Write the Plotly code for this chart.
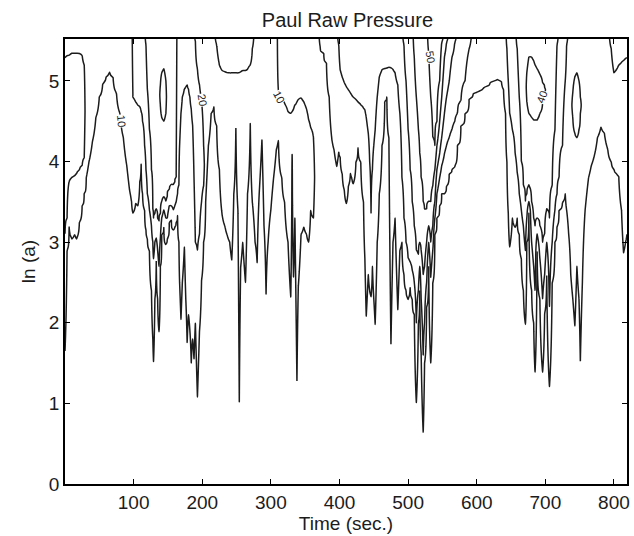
import numpy as np
import plotly.graph_objects as go

# ---- data -----------------------------------------------------------------
# For each time column (sec.), the ln(a) height at which the field first rises
# through each contour level (None = not reached below the top of the plot).
lvl10 = {
    0: 1.65, 3: 2.90, 6: 3.20, 10: 3.05, 14: 3.10, 17: 3.05, 21: 3.25, 25: 3.45, 28: 3.60,
    31: 3.80, 35: 4.00, 40: 4.25, 45: 4.55, 50: 4.80, 55: 4.97, 60: 5.06, 65: 5.12, 70: 5.05,
    75: 4.85, 80: 4.60, 85: 4.30, 90: 3.95, 94: 3.65, 97: 3.50,
    99: 3.36, 103: 3.48, 106: 3.45, 109: 3.75, 111: 3.98, 113: 3.60, 116: 3.40, 118: 3.15,
    120: 3.05, 123: 2.90, 126: 2.40, 128: 1.80, 129: 1.52, 131: 2.30, 133: 2.78, 135: 2.30,
    137: 1.89, 139: 2.70, 141: 3.10, 144: 3.20, 147: 2.97, 149: 3.05, 152: 3.25, 155: 3.28,
    158: 3.15, 160: 3.20, 162: 3.25, 164: 3.34, 166: 3.00, 167: 2.50, 169: 2.04, 171: 2.50,
    174: 2.94, 176: 2.30, 178: 1.75, 180: 2.10, 182: 1.90, 184: 1.50, 186: 1.80, 188: 1.55,
    190: 2.00, 193: 1.08, 196: 1.90, 199: 2.53, 202: 3.00, 205: 3.50, 209: 4.20, 213: 4.60,
    217: 4.68, 221: 4.45, 225: 3.90, 229: 3.34,
    233: 3.20, 236: 3.10, 240: 3.00, 243: 2.78, 246: 3.60, 249: 4.43, 252: 3.40, 254: 1.01,
    256: 2.69, 259: 3.00, 263: 2.50, 266: 3.60, 270: 4.48, 273: 3.50, 277: 3.00, 280: 2.74,
    283: 3.60, 287: 4.27, 290: 3.20, 293: 2.35, 296: 3.00, 300: 3.40, 304: 3.80, 308: 4.15,
    311: 4.27, 316: 3.80, 320: 3.50, 325: 3.00, 329: 2.32, 331: 4.10, 333: 2.57, 335: 3.30,
    338: 1.27, 340: 2.45, 344: 3.10, 348: 3.19, 352: 3.10, 355: 3.00, 358: 3.40, 362: 3.30,
    366: None, 369: None,
    372: 5.42, 377: 5.35, 381: 5.22, 385: 4.80, 389: 4.27, 392: 4.15, 396: 3.94, 399: 4.12,
    401: 4.05, 404: 3.85, 407: 3.65, 410: 3.48, 413: 3.70, 416: 3.86, 418: 3.80, 420: 3.73,
    424: 4.00, 427: 4.18, 431: 4.00, 435: 3.50, 437: 2.80, 439: 2.08, 442: 2.60, 444: 2.40,
    446: 2.33, 448: 2.70, 450: 2.30, 452: 1.98, 455: 3.00, 458: 3.60, 462: 4.20, 466: 4.75,
    469: 4.82, 472: 4.30, 475: 1.73, 478: 3.00, 481: 3.30, 485: 2.16, 488: 2.90, 491: 3.00,
    494: 2.60, 497: 2.40, 500: 2.30, 503: 2.45, 506: 2.30, 509: 2.10, 512: 1.01, 515: 2.00,
    517: 2.40, 519: 1.63, 522: 0.64, 524: 1.50, 527: 2.20, 530: 2.70, 533: 1.50, 536: 2.50,
    539: 3.11, 542: 3.30, 546: 3.45, 549: 3.60, 553: 3.60, 556: 3.70, 560: 3.85, 564: 3.90,
    568: 3.95, 572: 4.20, 577: 4.45, 583: 4.60, 589: 4.78, 595: 4.85, 603: 4.88, 611: 4.92,
    620: 4.98, 630: 5.03, 636: 5.00, 639: 4.90, 642: 4.60,
    644: 4.00, 646: 3.36, 648: 2.94, 652: 3.30, 656: 3.19, 659: 3.30, 662: 3.10, 665: 2.80,
    668: 2.40, 671: 1.98, 673: 3.00, 676: 3.38, 680: 2.40, 683: 2.00, 685: 1.39, 688: 2.90,
    692: 2.30, 696: 1.39, 699: 2.12, 702: 2.60, 706: 1.21, 710: 2.50, 714: 3.00, 717: 3.20,
    720: 3.40, 725: 3.50, 729: 3.60, 731: 3.40, 734: 3.10, 737: 2.60, 740: 2.30, 743: 1.96,
    746: 2.70, 749: 2.30, 751: 1.52, 754: 2.50, 758: 3.40, 763: 3.80, 767: 3.95, 771: 4.06,
    776: 4.30, 781: 4.43, 786: 4.35, 791: 4.15, 796: 4.00, 800: 3.90, 804: 3.85, 807: 3.81,
    811: 3.40, 814: 2.87, 817: 3.00, 819: 3.10,
}

lvl20 = {
    0: 3.10, 3: 3.30, 6: 3.75, 10: 3.80, 14: 3.82, 17: 3.85, 21: 3.90, 25: 3.95, 28: 4.05,
    99: 4.80, 103: 4.74, 106: 4.70, 109: 4.68, 111: 4.62, 113: 4.50, 116: 4.20, 118: 3.90,
    120: 3.60, 123: 3.40, 126: 3.20, 128: 3.00, 129: 2.80, 131: 3.00, 133: 3.05, 135: 2.90,
    137: 2.70, 139: 3.05, 141: 3.30, 144: 3.40, 147: 3.30, 149: 3.30, 152: 3.45, 155: 3.45,
    158: 3.40, 160: 3.45, 162: 3.50, 164: 3.60, 166: 3.70, 167: 4.20, 169: 4.60, 171: 4.80,
    174: 4.90, 176: 4.93, 178: 4.95, 180: 4.90, 182: 4.80, 184: 4.65, 186: 4.45, 188: 3.80,
    190: 3.00, 193: 2.90, 196: 3.10, 199: 3.50, 202: 3.70,
    221: 5.45, 225: 5.20, 229: 5.13, 233: 5.12, 236: 5.11, 240: 5.10, 243: 5.10, 246: 5.10,
    249: 5.10, 252: 5.10, 254: 5.11, 256: 5.12, 259: 5.13, 263: 5.13, 266: 5.15, 270: 5.20,
    273: 5.40,
    399: 5.45, 401: 5.14, 404: 5.05, 407: 4.98, 410: 4.93, 413: 4.89, 416: 4.85, 418: 4.82,
    420: 4.80, 424: 4.77, 427: 4.74, 431: 4.70, 435: 4.66, 437: 4.64, 439: 4.55, 442: 4.35,
    444: 4.00, 446: 3.36, 448: 3.90, 450: 4.20, 452: 4.39, 455: 4.80, 458: 5.05, 462: 5.14,
    466: 5.15, 469: 5.16, 472: 5.17, 475: 5.17, 478: 5.15, 481: 5.10, 485: 4.95, 488: 4.60,
    491: 3.80, 494: 3.30, 497: 3.00, 500: 2.80, 503: 2.75, 506: 2.65, 509: 2.50, 512: 2.00,
    515: 2.40, 517: 2.70, 519: 2.30, 522: 1.60, 524: 2.00, 527: 2.50, 530: 3.00, 533: 2.57,
    536: 2.90, 539: 3.30, 542: 3.60, 546: 3.80, 549: 3.95, 553: 4.10, 556: 4.20, 560: 4.30,
    564: 4.40, 568: 4.50, 572: 4.60, 577: 4.75, 583: 5.00, 589: 5.40,
    644: 5.40, 646: 5.00, 648: 4.60, 652: 4.39, 656: 4.10, 659: 3.86, 662: 3.60, 665: 3.40,
    668: 3.20, 671: 2.90, 673: 3.30, 676: 3.50, 680: 3.00, 683: 2.70, 685: 2.40, 688: 3.10,
    692: 2.80, 696: 2.30, 699: 2.60, 702: 3.00, 706: 2.20, 710: 3.00, 714: 3.40, 717: 3.60,
    720: 3.80, 725: 4.20, 729: 5.00, 731: 5.45,
    740: 4.55, 743: 4.35, 746: 4.30, 749: 4.40, 751: 4.60,
    796: 5.40, 800: 5.10, 804: 5.15, 807: 5.20, 811: 5.24, 814: 5.26, 817: 5.28, 819: 5.30,
}

lvl30 = {
    118: 5.45, 120: 4.90, 123: 4.40, 126: 3.90, 128: 3.40, 129: 3.30, 131: 3.35, 133: 3.40,
    135: 3.30, 137: 3.25, 139: 3.35, 141: 3.50, 144: 3.55, 147: 3.50, 149: 3.55, 152: 3.65,
    155: 3.70, 158: 3.70, 160: 3.75, 162: 3.80,
    494: 5.45, 497: 5.00, 500: 4.40, 503: 3.90, 506: 3.50, 509: 3.20, 512: 2.90, 515: 2.85,
    517: 3.00, 519: 2.90, 522: 2.60, 524: 2.70, 527: 3.00, 530: 3.20, 533: 3.00, 536: 3.20,
    539: 3.50, 542: 3.90, 546: 4.10, 549: 4.30, 553: 4.60, 556: 4.80, 560: 5.00, 564: 5.30,
    568: 5.48,
    659: 5.40, 662: 4.80, 665: 4.00, 668: 3.70, 671: 3.50, 673: 3.60, 676: 3.70, 680: 3.50,
    683: 3.30, 685: 3.20, 688: 3.30, 692: 3.20, 696: 3.00, 699: 3.10, 702: 3.40, 706: 3.30,
    710: 3.70, 714: 4.39, 717: 5.45,
}

lvl40 = {
    139: 4.70, 141: 4.55, 144: 4.50, 147: 4.60,
    509: 5.30, 512: 4.80, 515: 4.40, 517: 4.10, 519: 3.80, 522: 3.50, 524: 3.40, 527: 3.40,
    530: 3.50, 533: 3.50, 536: 3.70, 539: 3.90, 542: 4.20, 546: 4.50, 549: 4.80, 553: 5.30,
    556: 5.48,
    673: 4.75, 676: 4.60, 680: 4.55, 683: 4.52, 685: 4.52, 688: 4.52, 692: 4.60, 696: 4.72,
    699: 4.85,
}

lvl50 = {530: 5.35, 533: 4.80, 536: 4.30, 539: 4.20, 542: 4.50, 546: 5.00, 549: 5.48}

# height where the highest reached level is crossed again going up (closed loops,
# domes and bulges that turn back before the top of the plot)
down_y = {
    0: 5.30, 3: 5.32, 6: 5.33, 10: 5.35, 14: 5.35, 17: 5.35, 21: 5.34, 25: 5.32, 28: 5.20,
    139: 4.95, 141: 5.10, 144: 5.15, 147: 5.00,
    190: 5.50, 193: 5.15, 196: 4.95, 199: 4.75, 202: 4.20,
    311: 4.88, 316: 4.80, 320: 4.72, 325: 4.62, 329: 4.60, 331: 4.62, 333: 4.65, 335: 4.70,
    338: 4.74, 340: 4.77, 344: 4.79, 348: 4.74, 352: 4.65, 355: 4.52, 358: 4.42, 362: 4.30,
    673: 5.10, 676: 5.30, 680: 5.30, 683: 5.25, 685: 5.20, 688: 5.15, 692: 5.08, 696: 4.98,
    699: 4.92,
    740: 4.85, 743: 5.05, 746: 5.10, 749: 5.00, 751: 4.80,
}

levels = [10, 20, 30, 40, 50]
x_ticks = [100, 200, 300, 400, 500, 600, 700, 800]
y_ticks = [0, 1, 2, 3, 4, 5]

label_text = ["10", "20", "10", "50", "40"]
label_t = [82, 200, 312, 533, 695]
label_y = [4.50, 4.76, 4.80, 5.30, 4.80]
label_angle = [85, 80, 62, 80, -70]

# ---- build the z table the contour trace needs ------------------------------
Y_TOP = 5.52
time_s = sorted(lvl10.keys())
y_grid = np.linspace(0.0, Y_TOP, 185)
per_level = [lvl10, lvl20, lvl30, lvl40, lvl50]

cols = []
for t in time_s:
    ky, kz = [0.0], [0.0]
    lmax = 0
    for L, d in zip(levels, per_level):
        h = d.get(t)
        if h is None:
            break
        ky.append(h)
        kz.append(L)
        lmax = L
    dn = down_y.get(t)
    if dn is None:
        ky.append(Y_TOP + 0.01)
        kz.append(lmax + 5)
    else:
        ky.append((ky[-1] + dn) / 2.0)
        kz.append(lmax + 5)
        ky.append(dn)
        kz.append(lmax)
        ky.append(Y_TOP + 0.01)
        kz.append(lmax - 5)
    cols.append(np.interp(y_grid, ky, kz))
z = np.array(cols).T

# ---- figure -------------------------------------------------------------------
FONT = "Liberation Sans, Arial, Helvetica, sans-serif"
INK = "#1c1c1c"

fig = go.Figure()
fig.add_trace(go.Contour(
    x=time_s, y=y_grid, z=z,
    contours=dict(start=10, end=50, size=10, coloring="lines", showlabels=False),
    colorscale=[[0, INK], [1, INK]],
    line=dict(width=1.5, smoothing=0.7),
    showscale=False, hoverinfo="skip",
))

for txt, t, yv, ang in zip(label_text, label_t, label_y, label_angle):
    fig.add_annotation(x=t, y=yv, text=txt, showarrow=False, textangle=ang,
                       font=dict(family=FONT, size=11, color=INK),
                       bgcolor="white", borderpad=0)

axis_common = dict(
    showgrid=False, zeroline=False, showline=True, linecolor="black", linewidth=1.6,
    mirror="ticks", ticks="inside", ticklen=5, tickwidth=1, tickcolor="black",
    tickfont=dict(family=FONT, size=19, color=INK),
)
fig.update_xaxes(range=[0, 819], tickvals=x_ticks, **axis_common,
                 title=dict(text="Time (sec.)", font=dict(family=FONT, size=19, color=INK),
                            standoff=2))
fig.update_yaxes(range=[0, Y_TOP], tickvals=y_ticks, **axis_common,
                 title=dict(text="ln (a)", font=dict(family=FONT, size=19, color=INK),
                            standoff=8))

fig.update_layout(
    width=634, height=536,
    margin=dict(l=65, r=4, t=39, b=52),
    paper_bgcolor="white", plot_bgcolor="white",
    title=dict(text="Paul Raw Pressure", x=0.548, xanchor="center", xref="container",
               y=1 - 20 / 536, yanchor="middle",
               font=dict(family=FONT, size=20, color=INK)),
    showlegend=False,
)

fig.write_html("out.html")
